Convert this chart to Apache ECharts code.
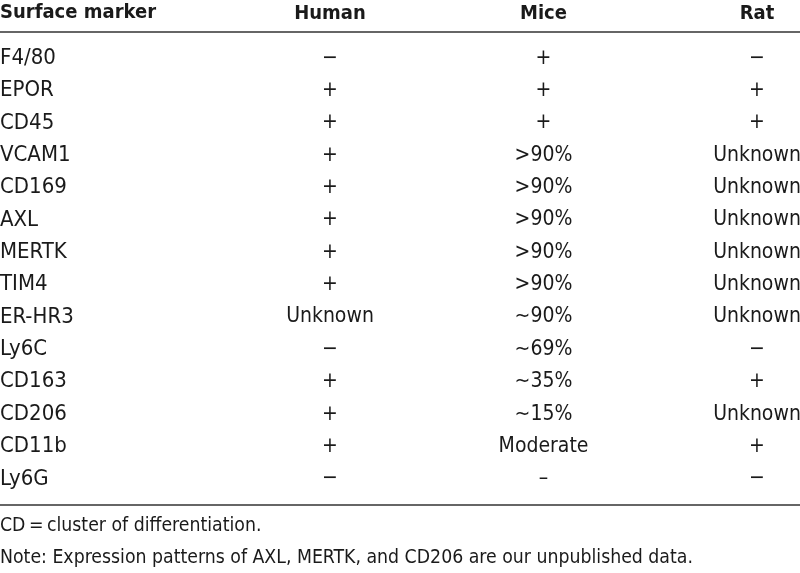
<!DOCTYPE html>
<html>
<head>
<meta charset="utf-8">
<script src="https://cdn.jsdelivr.net/npm/echarts@6/dist/echarts.min.js"></script>
<style>
  html, body { margin: 0; padding: 0; background: #fff; }
  #chart { width: 800px; height: 573px; }
</style>
</head>
<body>
<div id="chart"></div>
<script>
const species = ['Human', 'Mice', 'Rat'];
const markers = ['F4/80', 'EPOR', 'CD45', 'VCAM1', 'CD169', 'AXL', 'MERTK', 'TIM4',
  'ER-HR3', 'Ly6C', 'CD163', 'CD206', 'CD11b', 'Ly6G'];
const human = ['−', '+', '+', '+', '+', '+', '+', '+', 'Unknown', '−', '+', '+', '+', '−'];
const mice = ['+', '+', '+', '>90%', '>90%', '>90%', '>90%', '>90%', '∼90%', '∼69%', '∼35%', '∼15%', 'Moderate', '–'];
const rat = ['−', '+', '+', 'Unknown', 'Unknown', 'Unknown', 'Unknown', 'Unknown', 'Unknown', '−', '+', 'Unknown', '+', '−'];
const footnotes = ['CD\u2009=\u2009cluster of differentiation.',
  'Note: Expression patterns of AXL, MERTK, and CD206 are our unpublished data.'];

const font = '"Liberation Sans Narrow", "DejaVu Sans Condensed", sans-serif';
const ink = '#1a1a1a';

const cells = [];
[human, mice, rat].forEach((col, i) => {
  col.forEach((v, r) => cells.push([species[i], markers[r], v]));
});

const chart = echarts.init(document.getElementById('chart'));
chart.setOption({
  backgroundColor: '#fff',
  animation: false,
  grid: { left: 330, right: 43, top: 42, bottom: 78, outerBoundsMode: 'none', containLabel: false },
  xAxis: {
    type: 'category',
    data: species,
    position: 'top',
    boundaryGap: false,
    axisLine: { show: false },
    axisTick: { show: false },
    splitLine: { show: false },
    axisLabel: { margin: 18, fontFamily: font, fontSize: 20, fontWeight: 'bold', color: ink }
  },
  yAxis: {
    type: 'category',
    data: markers,
    inverse: true,
    axisLine: { show: false },
    axisTick: { show: false },
    splitLine: { show: false },
    axisLabel: { margin: 330, align: 'left', fontFamily: font, fontSize: 22, color: ink }
  },
  series: [{
    type: 'scatter',
    data: cells,
    symbolSize: 0,
    itemStyle: { opacity: 1 },
    label: {
      show: true,
      position: 'inside',
      formatter: (p) => p.value[2],
      fontFamily: font,
      fontSize: 21,
      color: ink,
      opacity: 1
    }
  }],
  graphic: [
    { type: 'text', left: 0, top: 3, style: { text: 'Surface marker', font: 'bold 20px ' + font, fill: ink } },
    { type: 'line', shape: { x1: 0, y1: 32, x2: 800, y2: 32 }, style: { stroke: '#333', lineWidth: 1.6 } },
    { type: 'line', shape: { x1: 0, y1: 505, x2: 800, y2: 505 }, style: { stroke: '#333', lineWidth: 1.6 } },
    { type: 'text', left: 0, top: 516, style: { text: footnotes[0], font: '19.3px ' + font, fill: ink } },
    { type: 'text', left: 0, top: 548, style: { text: footnotes[1], font: '19.3px ' + font, fill: ink } }
  ]
});
</script>
</body>
</html>
